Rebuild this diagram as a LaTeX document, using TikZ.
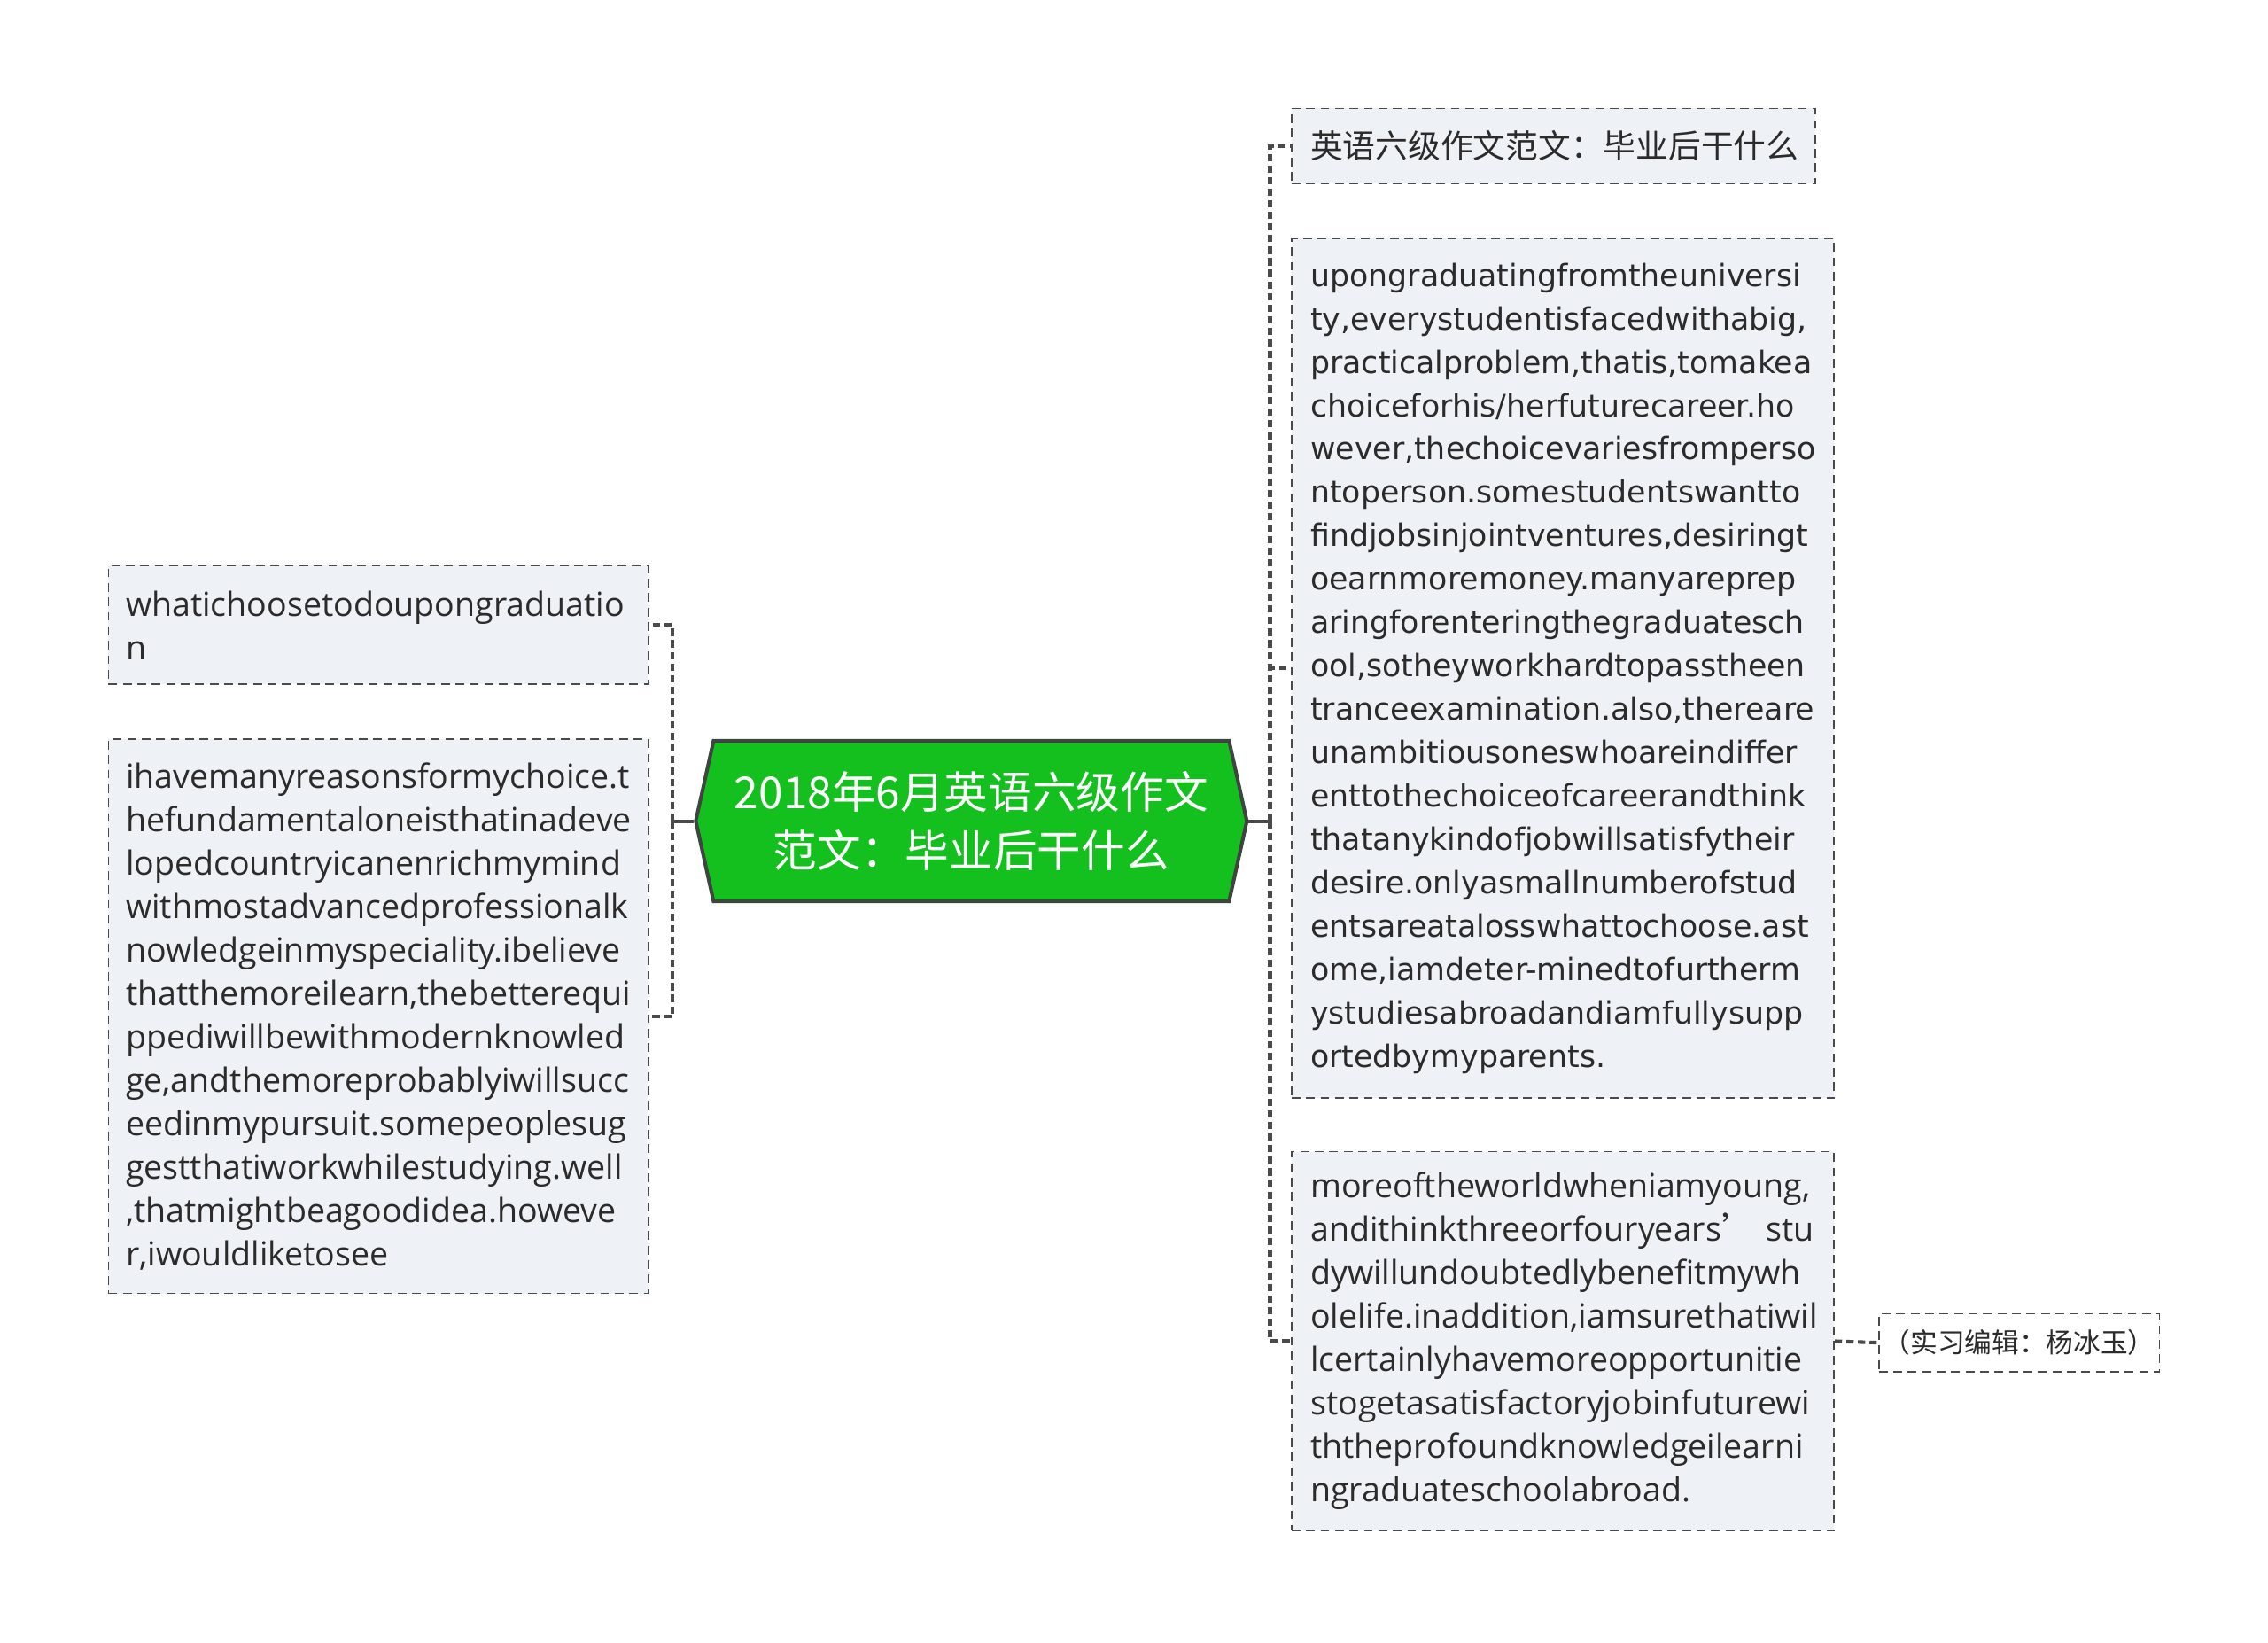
\documentclass[tikz,border=0pt]{standalone}
\usepackage{fontspec}
\setmainfont{Open Sans}
\newfontfamily\cjk{Noto Sans CJK SC}
\newfontfamily\wide{DejaVu Sans}
\usetikzlibrary{shapes.symbols}

\definecolor{mapgreen}{HTML}{14C01E}
\definecolor{mapedge}{HTML}{3E4540}
\definecolor{boxfill}{HTML}{EEF1F5}
\definecolor{boxline}{HTML}{4A4A4A}
\definecolor{linkline}{HTML}{4A4A4A}
\definecolor{ink}{HTML}{2B2B2B}

\begin{document}
\begin{tikzpicture}[x=1pt,y=-1pt,
    topic/.style={signal,signal to=east and west,signal pointer angle=155,
      fill=mapgreen,draw=mapedge,line width=2.5pt,text=white,
      minimum width=381pt,minimum height=111pt,inner sep=0pt,align=center,
      font=\cjk\fontsize{30.4}{40}\selectfont},
    textbox/.style={rectangle,draw=boxline,dashed,dash pattern=on 6pt off 4pt,line width=1pt,
      fill=boxfill,text=ink,align=left,inner xsep=12pt,inner ysep=0pt,
      font=\fontsize{23}{30}\selectfont},
    notebox/.style={rectangle,draw=boxline,dashed,dash pattern=on 6pt off 4pt,line width=1pt,
      fill=white,text=ink,align=center,inner sep=0pt,
      minimum width=194pt,minimum height=40pt,font=\cjk\fontsize{18.8}{22}\selectfont},
    trunk/.style={draw=linkline,line width=2.5pt},
    twig/.style={draw=linkline,line width=2.5pt,dash pattern=on 5pt off 3pt}]

\useasboundingbox (0,0) rectangle (1568,1135);

\node[topic] (c) at (671.5,567.5){2018年6月英语六级作文\\范文：毕业后干什么};

\coordinate (jl) at (465,567.5);
\coordinate (jr) at (878,567.5);

\node[textbox,text width=349pt,minimum height=82pt] (l1) at (261.5,432){whatichoosetodoupongraduatio\\n};
\node[textbox,text width=349pt,minimum height=383pt] (l2) at (261.5,702.5){ihavemanyreasonsformychoice.t\\hefundamentaloneisthatinadeve\\lopedcountryicanenrichmymind\\withmostadvancedprofessionalk\\nowledgeinmyspeciality.ibelieve\\thatthemoreilearn,thebetterequi\\ppediwillbewithmodernknowled\\ge,andthemoreprobablyiwillsucc\\eedinmypursuit.somepeoplesug\\gestthatiworkwhilestudying.well\\,thatmightbeagoodidea.howeve\\r,iwouldliketosee};

\node[textbox,text width=336pt,minimum height=52pt,inner xsep=13pt,font=\cjk\fontsize{22.5}{30}\selectfont] (r1) at (1074,101){英语六级作文范文：毕业后干什么};
\node[textbox,text width=349pt,minimum height=594pt,inner xsep=13pt,font=\wide\fontsize{21.3}{30}\selectfont] (r2) at (1080.5,462){upongraduatingfromtheuniversi\\ty,everystudentisfacedwithabig,\\practicalproblem,thatis,tomakea\\choiceforhis/herfuturecareer.ho\\wever,thechoicevariesfromperso\\ntoperson.somestudentswantto\\findjobsinjointventures,desiringt\\oearnmoremoney.manyareprep\\aringforenteringthegraduatesch\\ool,sotheyworkhardtopasstheen\\tranceexamination.also,thereare\\unambitiousoneswhoareindiffer\\enttothechoiceofcareerandthink\\thatanykindofjobwillsatisfytheir\\desire.onlyasmallnumberofstud\\entsareatalosswhattochoose.ast\\ome,iamdeter-minedtofurtherm\\ystudiesabroadandiamfullysupp\\ortedbymyparents.};
\node[textbox,text width=349pt,minimum height=262pt,inner xsep=13pt] (r3) at (1080.5,927){moreoftheworldwheniamyoung,\\andithinkthreeorfouryears{\cjk ’}\ stu\\dywillundoubtedlybenefitmywh\\olelife.inaddition,iamsurethatiwil\\lcertainlyhavemoreopportunitie\\stogetasatisfactoryjobinfuturewi\\ththeprofoundknowledgeilearni\\ngraduateschoolabroad.};
\node[notebox] (r3a) at (1396,928){（实习编辑：杨冰玉）};

\draw[trunk] (c.west) -- (jl);
\draw[trunk] (c.east) -- (jr);
\draw[twig] (jl) |- (l1.east);
\draw[twig] (jl) |- (l2.east);
\draw[twig] (jr) |- (r1.west);
\draw[twig] (jr) |- (r2.west);
\draw[twig] (jr) |- (r3.west);
\draw[twig] (r3.east) -- (r3a.west);
\end{tikzpicture}
\end{document}
